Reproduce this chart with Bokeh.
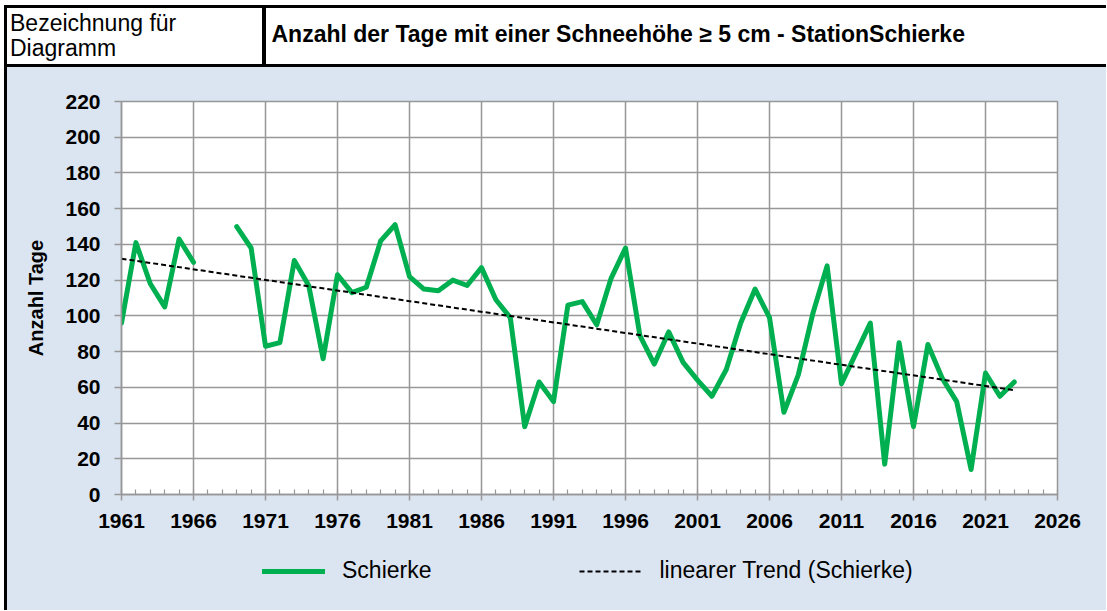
import numpy as np
from bokeh.plotting import figure
from bokeh.models import Range1d, FixedTicker, Legend, LegendItem, ColumnDataSource, Div
from bokeh.layouts import row, column
from bokeh.embed import file_html
from bokeh.resources import INLINE

# ---------------- data ----------------
years = list(range(1961, 2024))
snow_days = [96, 141, 118, 105, 143, 130, None, None, 150, 138,
             83, 85, 131, 117, 76, 123, 113, 116, 142, 151,
             122, 115, 114, 120, 117, 127, 109, 99, 38, 63,
             52, 106, 108, 95, 121, 138, 89, 73, 91, 74,
             64, 55, 70, 96, 115, 99, 46, 67, 101, 128,
             62, 79, 96, 17, 85, 38, 84, 65, 52, 14,
             68, 55, 63]
x_ticks = list(range(1961, 2027, 5))
x_minor = list(range(1961, 2027))
y_ticks = list(range(0, 221, 20))

series_label = "Schierke"
trend_label = "linearer Trend (Schierke)"
title_text = "Anzahl der Tage mit einer Schneehöhe ≥ 5 cm - StationSchierke"
header_left = ["Bezeichnung für", "Diagramm"]
y_title = "Anzahl Tage"

FONT = "Liberation Sans"
BG = "#dbe5f1"
GRID = "#979797"
GREEN = "#00b050"

# ---------------- header (HTML table look) ----------------
header_html = f"""
<div style="position:relative;width:1106px;height:67px;background:white;overflow:hidden;
            font-family:'{FONT}',Arial,sans-serif;color:black;">
  <div style="position:absolute;left:4px;top:5px;width:1102px;height:3px;background:black;"></div>
  <div style="position:absolute;left:4px;top:5px;width:3px;height:62px;background:black;"></div>
  <div style="position:absolute;left:262px;top:5px;width:4px;height:60px;background:black;"></div>
  <div style="position:absolute;left:4px;top:64px;width:1102px;height:3px;background:black;"></div>
  <div style="position:absolute;left:10px;top:10.7px;font-size:23px;line-height:25.5px;white-space:nowrap;">
    {header_left[0]}<br>{header_left[1]}</div>
  <div style="position:absolute;left:271.5px;top:20.7px;font-size:23px;line-height:26px;font-weight:bold;
              white-space:nowrap;">{title_text}</div>
</div>
"""
header = Div(text=header_html, width=1106, height=67, margin=0)

left_html = """
<div style="position:relative;width:7px;height:543px;background:white;">
  <div style="position:absolute;left:4px;top:0px;width:3px;height:543px;background:black;"></div>
</div>
"""
left_edge = Div(text=left_html, width=7, height=543, margin=0)

# ---------------- main chart ----------------
yrs = np.array(years, dtype=float)
vals = np.array([np.nan if v is None else v for v in snow_days], dtype=float)
mask = ~np.isnan(vals)
slope, intercept = np.polyfit(yrs[mask], vals[mask], 1)
trend_x = [years[0], years[-1]]
trend_y = [slope * x + intercept for x in trend_x]

src = ColumnDataSource(dict(x=yrs, y=vals))

main = figure(width=1099, height=477, frame_width=936, frame_height=393,
              x_range=Range1d(1961, 2026), y_range=Range1d(0, 220),
              output_backend="svg", toolbar_location=None,
              min_border_left=114, min_border_right=49,
              min_border_top=34, min_border_bottom=50,
              background_fill_color="white", border_fill_color=BG,
              outline_line_color=GRID, outline_line_width=1.5)

xa = main.xaxis[0]
xa.ticker = FixedTicker(ticks=x_ticks, minor_ticks=x_minor)
xa.major_tick_in = 0
xa.major_tick_out = 6
xa.minor_tick_in = 5
xa.minor_tick_out = 0
xa.axis_line_color = GRID
xa.axis_line_width = 1.5
xa.major_tick_line_color = GRID
xa.major_tick_line_width = 1.5
xa.minor_tick_line_color = GRID
xa.minor_tick_line_width = 1.2
xa.major_label_text_font = FONT
xa.major_label_text_font_style = "bold"
xa.major_label_text_font_size = "21px"
xa.major_label_text_color = "black"
xa.major_label_standoff = 13

ya = main.yaxis[0]
ya.ticker = FixedTicker(ticks=y_ticks, minor_ticks=[])
ya.major_tick_in = 0
ya.major_tick_out = 7
ya.minor_tick_line_color = None
ya.axis_line_color = GRID
ya.axis_line_width = 1.5
ya.major_tick_line_color = GRID
ya.major_tick_line_width = 1.5
ya.major_label_text_font = FONT
ya.major_label_text_font_style = "bold"
ya.major_label_text_font_size = "21px"
ya.major_label_text_color = "black"
ya.major_label_standoff = 14
ya.axis_label = y_title
ya.axis_label_text_font = FONT
ya.axis_label_text_font_style = "bold"
ya.axis_label_text_font_size = "20px"
ya.axis_label_text_color = "black"
ya.axis_label_standoff = 15

main.xgrid.grid_line_color = GRID
main.xgrid.grid_line_width = 1.5
main.ygrid.grid_line_color = GRID
main.ygrid.grid_line_width = 1.5

main.line("x", "y", source=src, line_color=GREEN, line_width=5,
          line_join="round", line_cap="round")
main.line(trend_x, trend_y, line_color="black", line_width=2, line_dash="5 3")

# ---------------- legend strip ----------------
leg = figure(width=1099, height=66, x_range=Range1d(0, 1), y_range=Range1d(0, 1),
             x_axis_type=None, y_axis_type=None, output_backend="svg",
             toolbar_location=None, min_border_left=114, min_border_right=49,
             min_border_top=0, min_border_bottom=0, outline_line_color=None,
             background_fill_color=None, border_fill_color=BG)
# legend-only renderers, placed outside the visible range
lg_line = leg.line(x=[-5, -4], y=[-5, -5], line_color=GREEN, line_width=5, line_cap="round")
lg_trend = leg.line(x=[-5, -4], y=[-5, -5], line_color="black", line_width=2, line_dash="5 3")

legend = Legend(items=[LegendItem(label=series_label, renderers=[lg_line]),
                       LegendItem(label=trend_label, renderers=[lg_trend])],
                orientation="horizontal", location=(141, 26),
                glyph_width=63, glyph_height=20, label_standoff=17,
                spacing=148, padding=0, margin=0,
                background_fill_alpha=0, border_line_alpha=0,
                label_text_font=FONT, label_text_font_size="23px",
                label_text_color="black")
leg.add_layout(legend)

layout = column(header,
                row(left_edge,
                    column(main, leg, spacing=0, styles={"background-color": BG}),
                    spacing=0),
                spacing=0)

open("out.html", "w").write(file_html(layout, INLINE))
